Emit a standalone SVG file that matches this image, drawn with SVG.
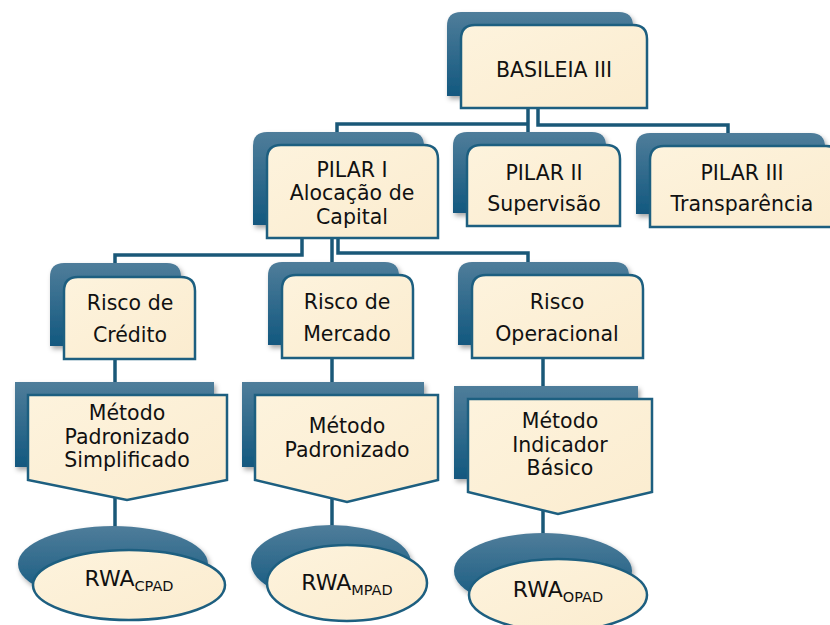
<svg xmlns="http://www.w3.org/2000/svg" width="830" height="625" viewBox="0 0 830 625">
<defs>
<linearGradient id="bk" x1="0" y1="0" x2="0" y2="1">
<stop offset="0" stop-color="#4f7d9a"/>
<stop offset="1" stop-color="#12587f"/>
</linearGradient>
<linearGradient id="cr" x1="0" y1="0" x2="1" y2="1">
<stop offset="0" stop-color="#fdf3dd"/>
<stop offset="1" stop-color="#fbeccf"/>
</linearGradient>
<filter id="sh" x="-10%" y="-10%" width="125%" height="130%">
<feDropShadow dx="2" dy="3" stdDeviation="2.5" flood-color="#000" flood-opacity="0.35"/>
</filter>
</defs>
<style>
.c{fill:none;stroke:#1a5878;stroke-width:3.5}
.b{fill:url(#bk);filter:url(#sh)}
.f{fill:url(#cr);stroke:#1d5f80;stroke-width:2.5}
.t{font-family:"DejaVu Sans",sans-serif;font-size:20.5px;fill:#111;text-anchor:middle}
.r{font-size:22px}
.s{font-size:14.5px}
</style>
<g id="connectors">
<path class="c" d="M528,108 V132 M528,124 H337 V134"/>
<path class="c" d="M538,108 V125 H728 V134"/>
<path class="c" d="M302,238 V255 H115 V265"/>
<path class="c" d="M332,238 V264"/>
<path class="c" d="M338,238 V253 H528 V264"/>
<path class="c" d="M115,359 V384"/>
<path class="c" d="M332,358 V384"/>
<path class="c" d="M543,358 V388"/>
<path class="c" d="M115,495 V535"/>
<path class="c" d="M332,498 V535"/>
<path class="c" d="M543,510 V545"/>
</g>
<g id="basileia">
<path class="b" d="M447,96 V26 Q447,12 461,12 H619 Q633,12 633,26 V96 Z"/>
<path class="f" d="M461,108 V39 Q461,25 475,25 H633 Q647,25 647,39 V108 Z"/>
<text class="t" x="554" y="77">BASILEIA III</text>
</g>
<g id="pilar1">
<path class="b" d="M253,225 V146 Q253,132 267,132 H410 Q424,132 424,146 V225 Z"/>
<path class="f" d="M267,238 V159 Q267,145 281,145 H424 Q438,145 438,159 V238 Z"/>
<text class="t" x="352" y="177">PILAR I</text>
<text class="t" x="352" y="200">Alocação de</text>
<text class="t" x="352" y="224">Capital</text>
</g>
<g id="pilar2">
<path class="b" d="M453,213 V146 Q453,132 467,132 H592 Q606,132 606,146 V213 Z"/>
<path class="f" d="M467,226 V159 Q467,145 481,145 H606 Q620,145 620,159 V226 Z"/>
<text class="t" x="544" y="180">PILAR II</text>
<text class="t" x="544" y="211">Supervisão</text>
</g>
<g id="pilar3">
<path class="b" d="M636,214 V147 Q636,133 650,133 H811 Q825,133 825,147 V214 Z"/>
<path class="f" d="M650,227 V160 Q650,146 664,146 H826 Q840,146 840,160 V227 Z"/>
<text class="t" x="742" y="180">PILAR III</text>
<text class="t" x="742" y="211">Transparência</text>
</g>
<g id="risco-credito">
<path class="b" d="M50,346 V277 Q50,263 64,263 H167 Q181,263 181,277 V346 Z"/>
<path class="f" d="M64,359 V291 Q64,277 78,277 H181 Q195,277 195,291 V359 Z"/>
<text class="t" x="130" y="310">Risco de</text>
<text class="t" x="130" y="342">Crédito</text>
</g>
<g id="risco-mercado">
<path class="b" d="M268,345 V276 Q268,262 282,262 H385 Q399,262 399,276 V345 Z"/>
<path class="f" d="M282,358 V289 Q282,275 296,275 H399 Q413,275 413,289 V358 Z"/>
<text class="t" x="347" y="309">Risco de</text>
<text class="t" x="347" y="341">Mercado</text>
</g>
<g id="risco-operacional">
<path class="b" d="M458,345 V276 Q458,262 472,262 H615 Q629,262 629,276 V345 Z"/>
<path class="f" d="M472,358 V289 Q472,275 486,275 H629 Q643,275 643,289 V358 Z"/>
<text class="t" x="557" y="309">Risco</text>
<text class="t" x="557" y="341">Operacional</text>
</g>
<g id="metodo-ps">
<rect class="b" x="15" y="382" width="199" height="85"/>
<path class="f" d="M28,395 H227 V480 L127,500 L28,480 Z"/>
<text class="t" x="127" y="420">Método</text>
<text class="t" x="127" y="444">Padronizado</text>
<text class="t" x="127" y="467">Simplificado</text>
</g>
<g id="metodo-p">
<rect class="b" x="242" y="382" width="182" height="85"/>
<path class="f" d="M255,395 H438 V480 L347,502 L255,480 Z"/>
<text class="t" x="347" y="433">Método</text>
<text class="t" x="347" y="457">Padronizado</text>
</g>
<g id="metodo-ib">
<rect class="b" x="454" y="386" width="184" height="93"/>
<path class="f" d="M468,399 H652 V492 L558,514 L468,492 Z"/>
<text class="t" x="560" y="428">Método</text>
<text class="t" x="560" y="452">Indicador</text>
<text class="t" x="560" y="475">Básico</text>
</g>
<g id="rwa-cpad">
<ellipse class="b" cx="113" cy="564" rx="95" ry="38"/>
<ellipse class="f" cx="129" cy="585" rx="96" ry="35"/>
<text class="t r" x="129" y="586">RWA<tspan class="s" dy="5">CPAD</tspan></text>
</g>
<g id="rwa-mpad">
<ellipse class="b" cx="331" cy="563" rx="80" ry="38"/>
<ellipse class="f" cx="347" cy="583" rx="80" ry="38"/>
<text class="t r" x="347" y="590">RWA<tspan class="s" dy="5">MPAD</tspan></text>
</g>
<g id="rwa-opad">
<ellipse class="b" cx="543" cy="571" rx="89" ry="38"/>
<ellipse class="f" cx="558" cy="595" rx="89" ry="36"/>
<text class="t r" x="558" y="597">RWA<tspan class="s" dy="5">OPAD</tspan></text>
</g>
</svg>
